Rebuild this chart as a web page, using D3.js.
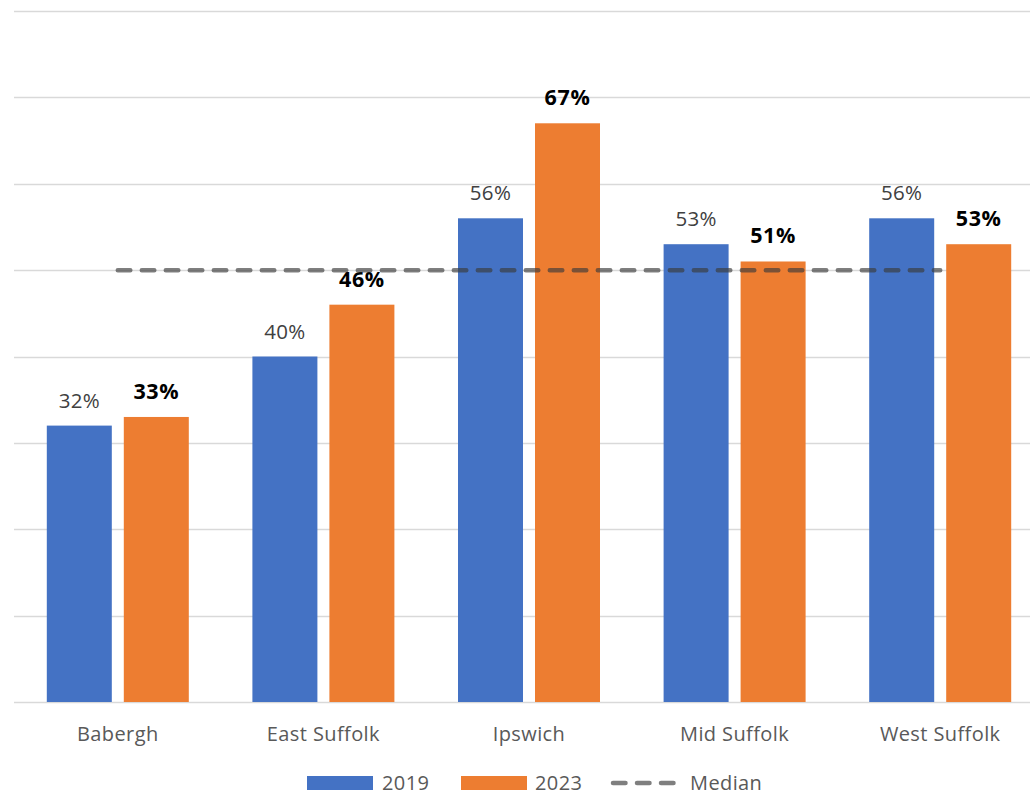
<!DOCTYPE html>
<html>
<head>
<meta charset="utf-8">
<script src="https://cdn.jsdelivr.net/npm/d3@7"></script>
<style>
  html, body { margin: 0; padding: 0; background: #fff; }
  svg { display: block; }
  text { font-family: "Open Sans", "Noto Sans", sans-serif; }
</style>
</head>
<body>
<svg id="chart" width="1030" height="797"></svg>
<script>
// Share of respondents by district, 2019 vs 2023, with the median line
const districts = ["Babergh", "East Suffolk", "Ipswich", "Mid Suffolk", "West Suffolk"];
const values2019 = [32, 40, 56, 53, 56];
const values2023 = [33, 46, 67, 51, 53];
const medianValue = 50;
const yTicks = [0, 10, 20, 30, 40, 50, 60, 70, 80];
const seriesNames = ["2019", "2023", "Median"];

const W = 1030, H = 797;
const svg = d3.select("#chart");

const y = d3.scaleLinear().domain([0, 80]).range([702, 11]);
const x = d3.scaleBand().domain(districts).range([15, 1043]).padding(0);

const blue = "#4472C4", orange = "#ED7D31";
const barW = 65, gap = 12;

// gridlines
svg.append("g").selectAll("line").data(yTicks).join("line")
  .attr("x1", 14).attr("x2", W)
  .attr("y1", d => Math.round(y(d)) + 0.5).attr("y2", d => Math.round(y(d)) + 0.5)
  .attr("stroke", "#d9d9d9").attr("stroke-width", 1.5);

const cx = d => x(d) + x.bandwidth() / 2;

// bars
const rows = districts.map((d, i) => ({ d, v19: values2019[i], v23: values2023[i] }));
const g = svg.append("g");
g.selectAll("rect.b19").data(rows).join("rect")
  .attr("x", r => cx(r.d) - gap / 2 - barW).attr("width", barW)
  .attr("y", r => y(r.v19)).attr("height", r => y(0) - y(r.v19))
  .attr("fill", blue);
g.selectAll("rect.b23").data(rows).join("rect")
  .attr("x", r => cx(r.d) + gap / 2).attr("width", barW)
  .attr("y", r => y(r.v23)).attr("height", r => y(0) - y(r.v23))
  .attr("fill", orange);

// value labels
g.selectAll("text.l19").data(rows).join("text")
  .attr("x", r => cx(r.d) - gap / 2 - barW / 2).attr("y", r => y(r.v19) - 18)
  .attr("text-anchor", "middle").attr("font-size", 20.5).attr("fill", "#404040")
  .attr("letter-spacing", 0.3)
  .text(r => r.v19 + "%");
g.selectAll("text.l23").data(rows).join("text")
  .attr("x", r => cx(r.d) + gap / 2 + barW / 2).attr("y", r => y(r.v23) - 18)
  .attr("text-anchor", "middle").attr("font-size", 21.5).attr("font-weight", "bold").attr("fill", "#000")
  .attr("letter-spacing", 0.6)
  .text(r => r.v23 + "%");

// median line
svg.append("line")
  .attr("x1", cx(districts[0])).attr("x2", cx(districts[districts.length - 1]))
  .attr("y1", y(medianValue)).attr("y2", y(medianValue))
  .attr("stroke", "#3a3a3a").attr("stroke-opacity", 0.65)
  .attr("stroke-width", 4.5).attr("stroke-linecap", "round")
  .attr("stroke-dasharray", "12.5 11.5");

// category axis labels
svg.append("g").selectAll("text").data(districts).join("text")
  .attr("x", d => cx(d)).attr("y", 741)
  .attr("text-anchor", "middle").attr("font-size", 20).attr("fill", "#595959")
  .attr("letter-spacing", 0.4)
  .text(d => d);

// legend
const leg = svg.append("g");
const legY = 783;
const legFont = 20;
leg.append("rect").attr("x", 307).attr("y", legY - 7).attr("width", 66).attr("height", 14).attr("fill", blue);
leg.append("text").attr("x", 382).attr("y", legY + 7).attr("font-size", legFont).attr("fill", "#595959")
  .attr("letter-spacing", 0.4).text(seriesNames[0]);
leg.append("rect").attr("x", 461).attr("y", legY - 7).attr("width", 66).attr("height", 14).attr("fill", orange);
leg.append("text").attr("x", 535).attr("y", legY + 7).attr("font-size", legFont).attr("fill", "#595959")
  .attr("letter-spacing", 0.4).text(seriesNames[1]);
leg.append("line").attr("x1", 613).attr("x2", 674).attr("y1", legY).attr("y2", legY)
  .attr("stroke", "#3a3a3a").attr("stroke-opacity", 0.65)
  .attr("stroke-width", 4.5).attr("stroke-linecap", "round").attr("stroke-dasharray", "12.5 11.5");
leg.append("text").attr("x", 690).attr("y", legY + 7).attr("font-size", legFont).attr("fill", "#595959")
  .attr("letter-spacing", 0.4).text(seriesNames[2]);
</script>
</body>
</html>
